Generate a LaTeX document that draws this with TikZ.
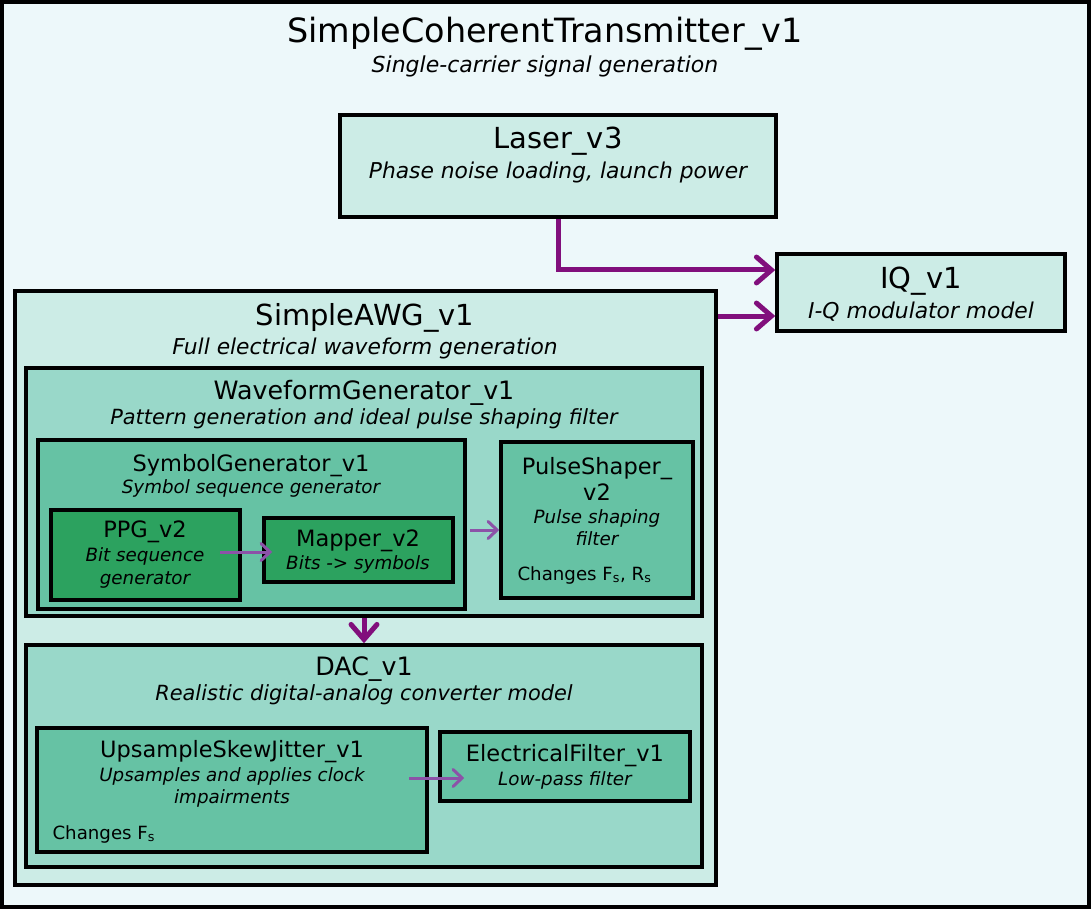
\documentclass[tikz,border=0pt]{standalone}
\usepackage{fontspec}
\setmainfont{DejaVu Sans}
\usepackage{tikz}
\usetikzlibrary{arrows.meta}
\usetikzlibrary{positioning}

\definecolor{bgzero}{HTML}{EDF8FA}
\definecolor{bgone}{HTML}{CCECE6}
\definecolor{bgtwo}{HTML}{99D8C9}
\definecolor{bgthree}{HTML}{66C2A4}
\definecolor{bgfour}{HTML}{2CA25F}
\definecolor{flow}{HTML}{810F7C}
\definecolor{subflow}{HTML}{8C52A8}

\newcommand{\fsz}[1]{\fontsize{#1}{#1}\selectfont}

\begin{document}
\begin{tikzpicture}[x=1pt,y=-1pt,
block/.style={draw,line width=3.5pt,inner sep=0pt},
tzero/.style={font=\fsz{33.4}},
szero/.style={font=\fsz{22}\itshape},
tone/.style={font=\fsz{29}},
sone/.style={font=\fsz{21.8}\itshape},
ttwo/.style={font=\fsz{25.3}},
stwo/.style={font=\fsz{20.9}\itshape},
tthree/.style={font=\fsz{22.5}},
sthree/.style={font=\fsz{18.3}\itshape},
note/.style={font=\fsz{18.2}},
bigarrow/.style={draw=flow,line width=5pt,-{Straight Barb[length=15pt,width=26pt,line cap=round]}},
smallarrow/.style={draw=subflow,line width=3pt,-{Straight Barb[length=9pt,width=17pt,line cap=round]}}]

\useasboundingbox (0,0) rectangle (1092,909);

\node[block,line width=4pt,fill=bgzero,minimum width=1087pt,minimum height=905pt] (sct) at (545.5,454.5) {};
\node[tzero] (sct t) at (545,34) {SimpleCoherentTransmitter\_v1};
\node[szero] (sct s) at (545,66) {Single-carrier signal generation};

\node[block,fill=bgone,minimum width=436pt,minimum height=102pt] (laser) at (558,166) {};
\node[tone] (laser t) at (558,141) {Laser\_v3};
\node[sone] (laser s) at (558,172) {Phase noise loading, launch power};

\node[block,fill=bgone,minimum width=288pt,minimum height=77pt] (iq) at (921,292.5) {};
\node[tone] (iq t) at (921,281) {IQ\_v1};
\node[sone] (iq s) at (921,312) {I-Q modulator model};

\node[block,fill=bgone,minimum width=701pt,minimum height=594pt] (awg) at (365.5,588) {};
\node[tone] (awg t) at (365,318) {SimpleAWG\_v1};
\node[sone] (awg s) at (365,348) {Full electrical waveform generation};

\node[block,fill=bgtwo,minimum width=676pt,minimum height=248pt] (wfg) at (364,492) {};
\node[ttwo] (wfg t) at (364,393) {WaveformGenerator\_v1};
\node[stwo] (wfg s) at (364,419) {Pattern generation and ideal pulse shaping filter};

\node[block,fill=bgthree,minimum width=427pt,minimum height=169pt] (symgen) at (251.5,524.5) {};
\node[tthree] (symgen t) at (251,466) {SymbolGenerator\_v1};
\node[sthree] (symgen s) at (251,488) {Symbol sequence generator};

\node[block,fill=bgfour,minimum width=189pt,minimum height=90pt] (ppg) at (145.5,555) {};
\node[tthree] (ppg t) at (145,532) {PPG\_v2};
\node[sthree,align=center] (ppg s) at (145,568) {Bit sequence\\[4pt]generator};

\node[block,fill=bgfour,minimum width=189pt,minimum height=64pt] (mapper) at (358.5,550) {};
\node[tthree] (mapper t) at (358,541) {Mapper\_v2};
\node[sthree] (mapper s) at (358,564) {Bits -> symbols};

\node[block,fill=bgthree,minimum width=192pt,minimum height=156pt] (pulse) at (597,520) {};
\node[tthree,align=center] (pulse t) at (597,479) {PulseShaper\_\\[4pt]v2};
\node[sthree,align=center] (pulse s) at (597,528) {Pulse shaping\\[4pt]filter};
\node[note,anchor=west] (pulse n) at (514,575) {Changes F\textsubscript{s}, R\textsubscript{s}};

\node[block,fill=bgtwo,minimum width=676pt,minimum height=222pt] (dac) at (364,756) {};
\node[ttwo] (dac t) at (364,669) {DAC\_v1};
\node[stwo] (dac s) at (364,695) {Realistic digital-analog converter model};

\node[block,fill=bgthree,minimum width=390pt,minimum height=124pt] (ups) at (232,790) {};
\node[tthree] (ups t) at (232,752) {UpsampleSkewJitter\_v1};
\node[sthree,align=center] (ups s) at (232,787.5) {Upsamples and applies clock\\[4pt]impairments};
\node[note,anchor=west] (ups n) at (49,834) {Changes F\textsubscript{s}};

\node[block,fill=bgthree,minimum width=250pt,minimum height=69pt] (ef) at (565,766.5) {};
\node[tthree] (ef t) at (565,756) {ElectricalFilter\_v1};
\node[sthree] (ef s) at (565,780) {Low-pass filter};

% connections
\coordinate (iq in a) at ([yshift=22.5pt]iq.west);
\coordinate (iq in b) at ([yshift=-23.5pt]iq.west);
\draw[bigarrow] (laser.south) |- (iq in a);
\draw[bigarrow] (iq in b -| awg.east) -- (iq in b);
\draw[bigarrow] (wfg.south) -- (dac.north);

\coordinate (map in) at ([shift={(10pt,-2pt)}]mapper.west);
\draw[smallarrow] ([xshift=-22pt]ppg.east |- map in) -- (map in);
\coordinate (ps in) at ([yshift=-10pt]pulse.west);
\draw[smallarrow] ([xshift=3pt]symgen.east |- ps in) -- (ps in);
\coordinate (ef in) at ([shift={(26pt,-11.5pt)}]ef.west);
\draw[smallarrow] ([xshift=-20pt]ups.east |- ef in) -- (ef in);
\end{tikzpicture}
\end{document}
